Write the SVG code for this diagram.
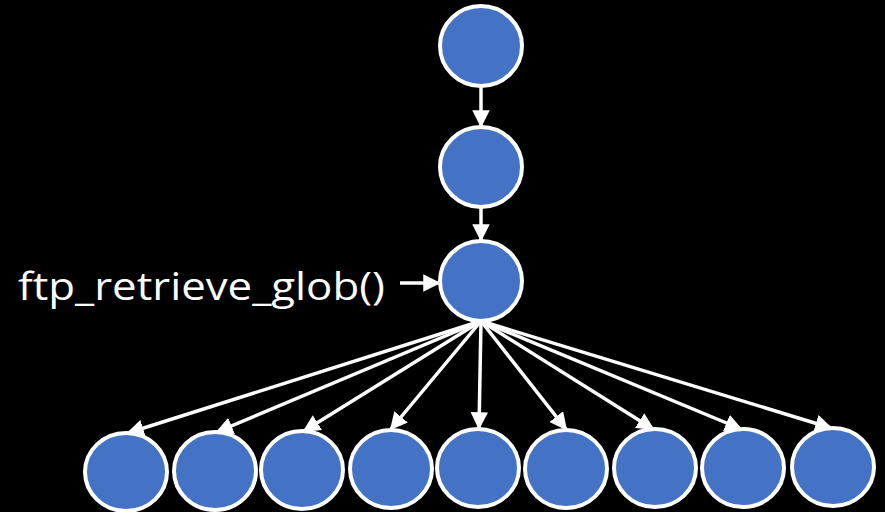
<svg xmlns="http://www.w3.org/2000/svg" width="885" height="512" viewBox="0 0 885 512">
  <style>
    .node { fill: #4472C4; stroke: #FFFFFF; stroke-width: 4; }
    .edge { stroke: #FFFFFF; stroke-width: 3.5; fill: none; marker-end: url(#head); }
    .label { fill: #FFFFFF; font-family: "Open Sans", "Liberation Sans", sans-serif; font-size: 39px; }
  </style>
  <defs>
    <marker id="head" viewBox="0 0 10 10" refX="9" refY="5" markerWidth="5" markerHeight="5" orient="auto" markerUnits="strokeWidth">
      <path d="M0,0 L10,5 L0,10 Z" fill="#FFFFFF"/>
    </marker>
  </defs>
  <rect width="885" height="512" fill="#000000"/>

  <g id="connectors">
    <line class="edge" x1="481" y1="87" x2="481" y2="126"/>
    <line class="edge" x1="481" y1="208" x2="481" y2="240"/>
    <line class="edge" x1="400" y1="283" x2="439" y2="283"/>
    <line class="edge" x1="481" y1="321" x2="128" y2="433"/>
    <line class="edge" x1="481" y1="321" x2="217" y2="432"/>
    <line class="edge" x1="481" y1="321" x2="304" y2="431"/>
    <line class="edge" x1="481" y1="321" x2="391" y2="429"/>
    <line class="edge" x1="481" y1="321" x2="479" y2="428"/>
    <line class="edge" x1="481" y1="321" x2="566" y2="429"/>
    <line class="edge" x1="481" y1="321" x2="653" y2="429"/>
    <line class="edge" x1="481" y1="321" x2="741" y2="429"/>
    <line class="edge" x1="481" y1="321" x2="831" y2="428"/>
  </g>

  <text class="label" x="18" y="300" textLength="367" lengthAdjust="spacingAndGlyphs">ftp_retrieve_glob()</text>

  <g id="n0"><ellipse class="node" cx="481" cy="46" rx="41" ry="40"/></g>
  <g id="n1"><ellipse class="node" cx="481" cy="167" rx="41" ry="40"/></g>
  <g id="n2"><ellipse class="node" cx="481" cy="281" rx="41" ry="40"/></g>

  <g id="c1"><ellipse class="node" cx="126" cy="472" rx="41" ry="39"/></g>
  <g id="c2"><ellipse class="node" cx="215" cy="471" rx="41" ry="39"/></g>
  <g id="c3"><ellipse class="node" cx="302" cy="470" rx="41" ry="39"/></g>
  <g id="c4"><ellipse class="node" cx="391" cy="469" rx="41" ry="39"/></g>
  <g id="c5"><ellipse class="node" cx="478" cy="468" rx="41" ry="39"/></g>
  <g id="c6"><ellipse class="node" cx="566" cy="469" rx="41" ry="39"/></g>
  <g id="c7"><ellipse class="node" cx="655" cy="468" rx="41" ry="39"/></g>
  <g id="c8"><ellipse class="node" cx="743" cy="468" rx="41" ry="39"/></g>
  <g id="c9"><ellipse class="node" cx="833" cy="467" rx="41" ry="39"/></g>
</svg>
